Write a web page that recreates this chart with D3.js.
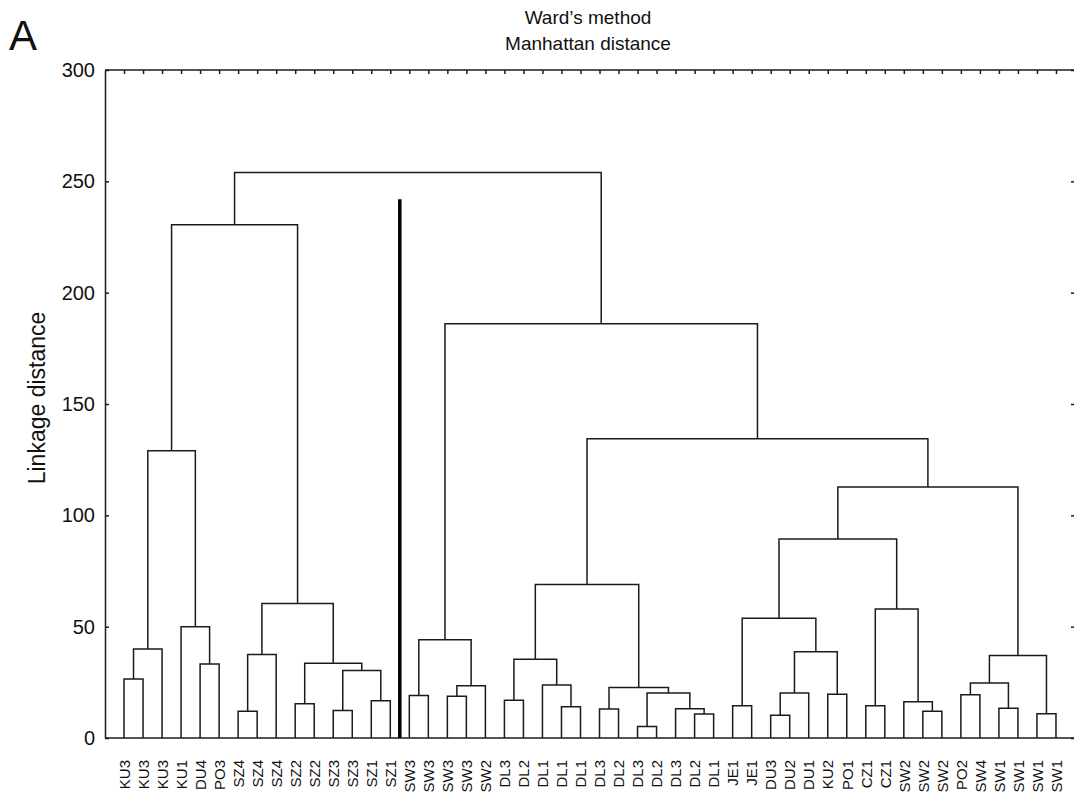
<!DOCTYPE html>
<html>
<head>
<meta charset="utf-8">
<script src="https://cdn.jsdelivr.net/npm/d3@7"></script>
<style>
  body { margin: 0; background: #fff; }
  text { font-family: "Liberation Sans", Arial, sans-serif; fill: #111; }
</style>
</head>
<body>
<svg id="chart" width="1074" height="797"></svg>
<script>
// Samples in dendrogram leaf order
const leafLabels = [
  "KU3","KU3","KU3","KU1","DU4","PO3","SZ4","SZ4","SZ4","SZ2",
  "SZ2","SZ3","SZ3","SZ1","SZ1","SW3","SW3","SW3","SW3","SW2",
  "DL3","DL2","DL1","DL1","DL1","DL3","DL2","DL3","DL2","DL3",
  "DL2","DL1","JE1","JE1","DU3","DU2","DU1","KU2","PO1","CZ1",
  "CZ1","SW2","SW2","SW2","PO2","SW4","SW1","SW1","SW1","SW1"
];

// Agglomeration steps: [left child, right child, linkage distance].
// Ids 0..49 are samples; id 50 + k is the cluster formed in step k.
const merges = [
  [0, 1, 26.5],   [50, 2, 40],    [4, 5, 33.2],   [3, 52, 50],    [51, 53, 129],
  [6, 7, 12],     [55, 8, 37.5],  [9, 10, 15.4],  [11, 12, 12.4], [13, 14, 16.7],
  [58, 59, 30.3], [57, 60, 33.6], [56, 61, 60.4], [54, 62, 230.5],
  [15, 16, 19.1], [17, 18, 18.7], [65, 19, 23.5], [64, 66, 44.1],
  [20, 21, 16.9], [23, 24, 14],   [22, 69, 23.8], [68, 70, 35.4],
  [25, 26, 13],   [27, 28, 5.2],  [30, 31, 10.8], [29, 74, 13.1], [73, 75, 20.2],
  [72, 76, 22.7], [71, 77, 68.9],
  [32, 33, 14.5], [34, 35, 10.2], [80, 36, 20.2], [37, 38, 19.7], [81, 82, 38.7],
  [79, 83, 53.8], [39, 40, 14.5], [42, 43, 12],   [41, 86, 16.3], [85, 87, 57.9],
  [84, 88, 89.4], [44, 45, 19.4], [46, 47, 13.4], [90, 91, 24.7], [48, 49, 10.9],
  [92, 93, 37.1], [89, 94, 112.7], [78, 95, 134.4], [67, 96, 186], [63, 97, 254]
];

const yTicks = [0, 50, 100, 150, 200, 250, 300];
const titleLines = ["Ward\u2019s method", "Manhattan distance"];
const yTitle = "Linkage distance";
const panelLetter = "A";

// Divider drawn between the SZ and SW groups
const divider = { after: 14, height: 242 };

const svg = d3.select("#chart");
const plotLeft = 105, plotRight = 1075, plotTop = 70, plotBottom = 738;
const ink = "#1b1b1b";

const x = d3.scalePoint()
  .domain(d3.range(leafLabels.length))
  .range([plotLeft, plotRight])
  .padding(1);

const y = d3.scaleLinear().domain([0, 300]).range([plotBottom, plotTop]);

// Node positions: leaves from the point scale, clusters centred over their children
const nodes = leafLabels.map((_, i) => ({ x: x(i), h: 0 }));
merges.forEach(([a, b, h]) => {
  nodes.push({ x: (nodes[a].x + nodes[b].x) / 2, h, a, b });
});

// Axes / frame
const axisStyle = g => {
  g.selectAll(".domain").attr("stroke", ink).attr("stroke-width", 1.5);
  g.selectAll(".tick line").attr("stroke", ink).attr("stroke-width", 1.5);
};

svg.append("g")
  .attr("transform", `translate(${plotLeft},0)`)
  .call(d3.axisLeft(y).tickValues(yTicks).tickSizeInner(-4).tickSizeOuter(0).tickPadding(10))
  .call(axisStyle)
  .call(g => g.selectAll("text")
    .attr("font-size", 20)
    .attr("font-family", "'Liberation Sans', Arial, sans-serif")
    .attr("fill", "#111"));

svg.append("g")
  .attr("transform", `translate(${plotRight},0)`)
  .call(d3.axisRight(y).tickValues(yTicks).tickSizeInner(-4).tickSizeOuter(0).tickFormat(""))
  .call(axisStyle);

svg.append("g")
  .attr("transform", `translate(0,${plotTop})`)
  .call(d3.axisTop(x).tickSizeInner(-4).tickSizeOuter(0).tickFormat(""))
  .call(axisStyle)
  .call(g => g.select(".domain").attr("d", `M${plotLeft},0H${plotRight}`));

svg.append("g")
  .attr("transform", `translate(0,${plotBottom})`)
  .call(d3.axisBottom(x).tickSize(0).tickFormat(i => leafLabels[i]))
  .call(axisStyle)
  .call(g => g.select(".domain").attr("d", `M${plotLeft},0H${plotRight}`))
  .call(g => g.selectAll("text")
    .attr("transform", "rotate(-90)")
    .attr("text-anchor", "end")
    .attr("x", -22)
    .attr("y", 0)
    .attr("dy", "0.35em")
    .attr("font-size", 15)
    .attr("font-family", "'Liberation Sans', Arial, sans-serif")
    .attr("fill", "#111"));

// Dendrogram links
svg.append("g")
  .attr("fill", "none")
  .attr("stroke", ink)
  .attr("stroke-width", 1.5)
  .attr("stroke-linejoin", "miter")
  .selectAll("path")
  .data(nodes.filter(d => d.a !== undefined))
  .join("path")
  .attr("d", d => {
    const A = nodes[d.a], B = nodes[d.b];
    return `M${A.x},${y(A.h)}V${y(d.h)}H${B.x}V${y(B.h)}`;
  });

// Divider
const divX = (x(divider.after) + x(divider.after + 1)) / 2;
svg.append("line")
  .attr("x1", divX).attr("x2", divX)
  .attr("y1", y(0)).attr("y2", y(divider.height))
  .attr("stroke", "#000")
  .attr("stroke-width", 3.5);

// Titles
svg.append("text")
  .attr("x", 588).attr("y", 24)
  .attr("text-anchor", "middle")
  .attr("font-size", 19)
  .text(titleLines[0]);
svg.append("text")
  .attr("x", 588).attr("y", 50)
  .attr("text-anchor", "middle")
  .attr("font-size", 19)
  .text(titleLines[1]);

svg.append("text")
  .attr("transform", `translate(45,${(plotTop + plotBottom) / 2 - 6}) rotate(-90)`)
  .attr("text-anchor", "middle")
  .attr("font-size", 23)
  .text(yTitle);

svg.append("text")
  .attr("x", 9).attr("y", 50)
  .attr("font-size", 42)
  .text(panelLetter);
</script>
</body>
</html>
